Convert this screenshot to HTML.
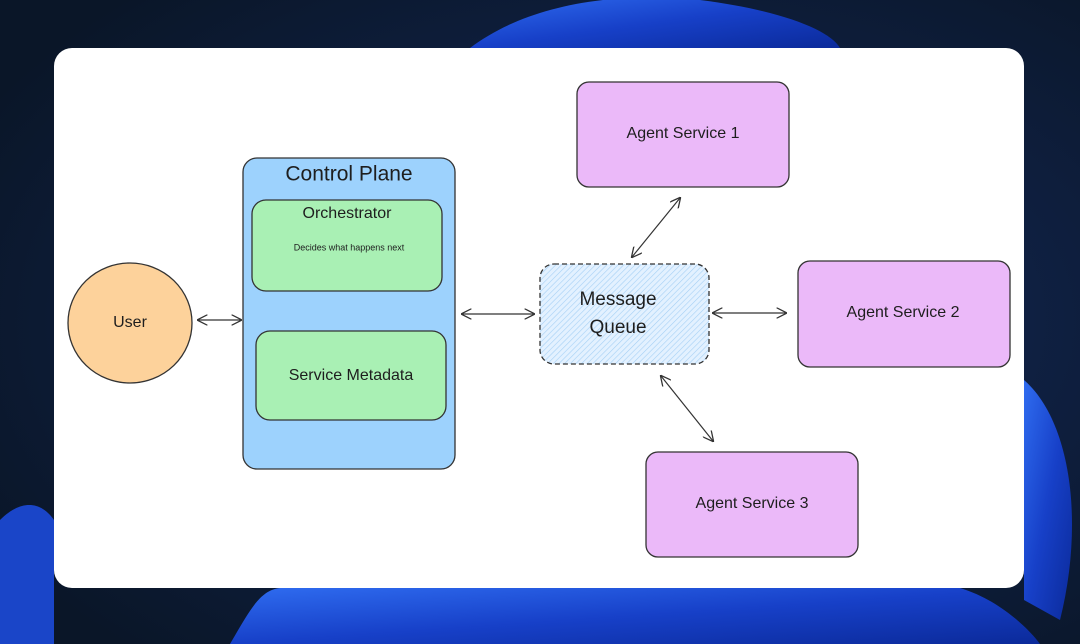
<!DOCTYPE html>
<html><head><meta charset="utf-8"><style>
html,body{margin:0;padding:0;width:1080px;height:644px;overflow:hidden;background:#0b1730;}
svg{display:block}
text{font-family:"Liberation Sans",sans-serif;fill:#1e1e1e;text-anchor:middle;dominant-baseline:middle}
</style></head><body>
<svg width="1080" height="644" viewBox="0 0 1080 644" xmlns="http://www.w3.org/2000/svg">
<defs>
<radialGradient id="bg" cx="0.6" cy="0.5" r="0.7"><stop offset="0" stop-color="#142a5c"/><stop offset="1" stop-color="#0a1628"/></radialGradient>
<linearGradient id="sw" x1="0" y1="0" x2="1" y2="1"><stop offset="0" stop-color="#2f6cf0"/><stop offset="0.5" stop-color="#1740c8"/><stop offset="1" stop-color="#0b2a9a"/></linearGradient>
<pattern id="hatch" width="4" height="4" patternUnits="userSpaceOnUse" patternTransform="rotate(45)"><rect width="4" height="4" fill="#e3f1ff"/><line x1="0" y1="0" x2="0" y2="4" stroke="#a5d0f5" stroke-width="1.2"/></pattern>
<marker id="ah" viewBox="0 0 10 10" refX="9" refY="5" markerWidth="9" markerHeight="9" orient="auto-start-reverse"><path d="M0,0 L10,5 L0,10" fill="none" stroke="#333" stroke-width="1.2"/></marker>
</defs>
<rect width="1080" height="644" fill="url(#bg)"/>
<path d="M470,48 C520,10 600,-10 700,0 C780,10 830,30 840,48 Z" fill="url(#sw)"/>
<path d="M1024,380 C1070,420 1085,520 1060,620 L1024,600 Z" fill="url(#sw)"/>
<path d="M230,644 C250,610 260,590 280,588 L960,588 C1000,600 1030,630 1040,644 Z" fill="url(#sw)"/>
<path d="M0,520 C20,500 40,500 54,520 L54,644 L0,644 Z" fill="#1a45c8"/>
<rect x="54" y="48" width="970" height="540" rx="18" fill="#fff"/>
<g stroke="#333" stroke-width="1.3">
<ellipse cx="130" cy="323" rx="62" ry="60" fill="#fdd29b"/>
<rect x="243" y="158" width="212" height="311" rx="14" fill="#9dd2fd"/>
<rect x="252" y="200" width="190" height="91" rx="14" fill="#a9f0b4"/>
<rect x="256" y="331" width="190" height="89" rx="14" fill="#a9f0b4"/>
<rect x="540" y="264" width="169" height="100" rx="14" fill="url(#hatch)" stroke-dasharray="5 3"/>
<rect x="577" y="82" width="212" height="105" rx="12" fill="#ebb9f9"/>
<rect x="798" y="261" width="212" height="106" rx="12" fill="#ebb9f9"/>
<rect x="646" y="452" width="212" height="105" rx="12" fill="#ebb9f9"/>
</g>
<g stroke="#333" stroke-width="1.2" fill="none" marker-start="url(#ah)" marker-end="url(#ah)">
<line x1="198" y1="320" x2="241" y2="320"/>
<line x1="462" y1="314" x2="534" y2="314"/>
<line x1="632" y1="257" x2="680" y2="198"/>
<line x1="713" y1="313" x2="786" y2="313"/>
<line x1="661" y1="376" x2="713" y2="441"/>
</g>
<text x="130" y="323" font-size="16">User</text>
<text x="349" y="175" font-size="21">Control Plane</text>
<text x="347" y="214" font-size="16">Orchestrator</text>
<text x="349" y="248" font-size="9">Decides what happens next</text>
<text x="351" y="376" font-size="16">Service Metadata</text>
<text x="618" y="300" font-size="19">Message</text>
<text x="618" y="328" font-size="19">Queue</text>
<text x="683" y="134" font-size="16">Agent Service 1</text>
<text x="903" y="313" font-size="16">Agent Service 2</text>
<text x="752" y="504" font-size="16">Agent Service 3</text>
</svg>
</body></html>
